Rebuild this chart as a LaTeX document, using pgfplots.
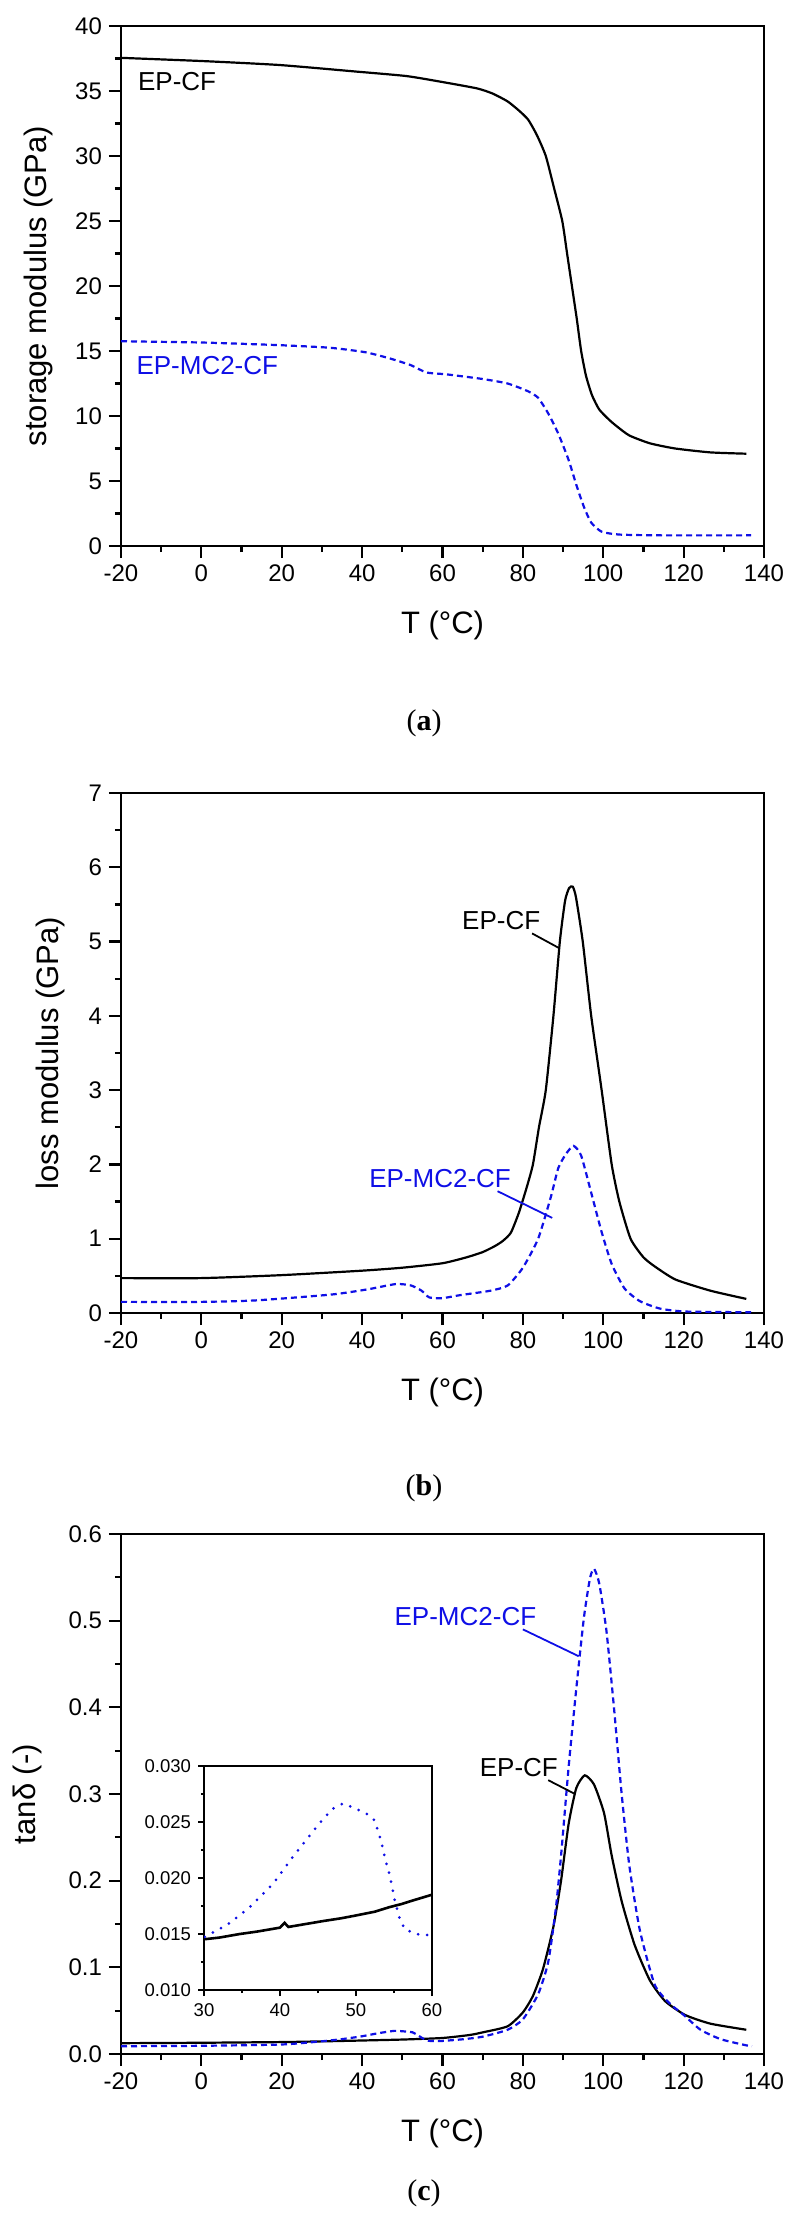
\documentclass[border=0pt]{standalone}
\usepackage{pgfplots}
\pgfplotsset{compat=1.18}
\usepackage{fontspec}
\setmainfont{Liberation Sans}
\newfontfamily\capfont{Liberation Serif}
\definecolor{mblue}{RGB}{15,15,230}

\pgfplotsset{
  dma/.style={
    scale only axis, width=321.5pt, height=260pt,
    xmin=-20, xmax=140, xtick={-20,0,...,140}, minor x tick num=1,
    minor y tick num=1,
    tick align=outside, xtick pos=bottom, ytick pos=left,
    major tick length=6pt, minor tick length=3pt,
    axis line style={line width=1.2pt},
    every tick/.style={line width=1.1pt, black},
    tick label style={font=\fontsize{12}{14}\selectfont},
    label style={font=\fontsize{15.5}{18}\selectfont},
    /pgf/number format/assume math mode=true,
    xlabel={T (°C)},
    xlabel style={at={(axis description cs:0.5,-0.152)}, anchor=center},
  },
  cf/.style={black, line width=1.1pt, smooth, tension=0.35},
  mc/.style={mblue, line width=1.1pt, dash pattern=on 3pt off 2pt, smooth, tension=0.35},
}

\begin{document}
\begin{tikzpicture}[x=0.5pt,y=-0.5pt]
\path[use as bounding box] (0,0) rectangle (796,2220);

% (a) storage modulus
\begin{axis}[dma, at={(60.5pt,-273pt)}, anchor=south west,
  ymin=0, ymax=40, ytick={0,5,...,40},
  ylabel={storage modulus (GPa)},
  ylabel style={at={(axis description cs:-0.129,0.5)}, anchor=center}]
\addplot[cf] coordinates {
(-20,37.55) (0.5,37.3) (19.4,37.0) (38.3,36.5) (51,36.15) (59.8,35.7)
(68.6,35.2) (72.5,34.8) (76.2,34.2) (79,33.5) (81.3,32.8) (83.5,31.6)
(85.7,30.0) (87.7,27.6) (89.8,25.0) (91.0,22.5) (92.2,20.0) (93.4,17.5)
(94.5,15.0) (95.7,13.1) (97.2,11.6) (99,10.5) (101.5,9.7) (103.4,9.2)
(106.5,8.5) (111.6,7.9) (117.9,7.5) (126.7,7.2) (135.6,7.1)};
\addplot[mc] coordinates {
(-20,15.75) (0.45,15.65) (19.4,15.45) (32,15.25) (40.9,14.9) (47.2,14.4)
(52.2,13.9) (56,13.35) (61.1,13.2) (69.9,12.85) (76.2,12.5) (81.3,11.9)
(83.8,11.4) (86.3,10.2) (88.8,8.65) (91.4,6.6) (93.3,4.7) (95.2,3.0)
(97.0,1.8) (99.6,1.1) (104,0.88) (114,0.82) (136.8,0.82)};
\node[anchor=west, font=\fontsize{13}{15}\selectfont] at (axis cs:-17.5,35.7) {EP-CF};
\node[anchor=west, mblue, font=\fontsize{13}{15}\selectfont] at (axis cs:-17.9,13.9) {EP-MC2-CF};
\end{axis}
\node[font=\capfont\fontsize{15}{18}\selectfont] at (424,723) {(\textbf{a})};

% (b) loss modulus
\begin{axis}[dma, at={(60.5pt,-656.5pt)}, anchor=south west,
  ymin=0, ymax=7, ytick={0,1,...,7},
  ylabel={loss modulus (GPa)},
  ylabel style={at={(axis description cs:-0.11,0.5)}, anchor=center}]
\addplot[cf] coordinates {
(-20,0.47) (0,0.47) (20,0.51) (40,0.57) (50,0.61) (60,0.67) (66,0.75)
(70,0.82) (73,0.9) (75,0.97) (77,1.08) (79,1.35) (81,1.7) (82.5,2.0)
(84,2.5) (85.7,3.0) (87.6,4.0) (89.2,5.0) (90.5,5.55) (91.5,5.72)
(92.4,5.74) (93.2,5.6) (94.9,5.0) (97,4.0) (99.6,3.0) (102.1,2.0)
(104,1.5) (106.8,1.0) (110,0.75) (113,0.62) (118,0.45) (126.7,0.30)
(135.6,0.19)};
\addplot[mc] coordinates {
(-20,0.15) (0,0.15) (13.6,0.17) (32.6,0.25) (41.5,0.32) (48.4,0.39)
(52.2,0.37) (54.8,0.30) (56.7,0.21) (60,0.2) (64.3,0.24) (71.9,0.3)
(76.2,0.37) (80,0.61) (83.8,1.0) (87,1.57) (88.8,1.95) (90.7,2.14)
(92.6,2.25) (94.5,2.12) (97,1.62) (99.6,1.09) (102.1,0.66) (105.3,0.33)
(109.1,0.16) (114.1,0.06) (120.4,0.02) (136.8,0.01)};
\node[font=\fontsize{13}{15}\selectfont] at (axis cs:74.6,5.28) {EP-CF};
\draw[black, line width=0.9pt] (axis cs:82.3,5.11) -- (axis cs:89.1,4.91);
\node[mblue, font=\fontsize{13}{15}\selectfont] at (axis cs:59.4,1.81) {EP-MC2-CF};
\draw[mblue, line width=0.9pt] (axis cs:73.7,1.64) -- (axis cs:87.3,1.28);
\end{axis}
\node[font=\capfont\fontsize{15}{18}\selectfont] at (424,1488) {(\textbf{b})};

% (c) tan delta
\begin{axis}[dma, at={(60.5pt,-1027pt)}, anchor=south west,
  ymin=0, ymax=0.6, ytick={0,0.1,...,0.6},
  yticklabel style={/pgf/number format/fixed, /pgf/number format/fixed zerofill, /pgf/number format/precision=1},
  ylabel={tanδ (-)},
  ylabel style={at={(axis description cs:-0.145,0.5)}, anchor=center}]
\addplot[cf] coordinates {
(-20,0.0125) (0,0.013) (20,0.0138) (30,0.0146) (40,0.0156) (50,0.0167)
(60,0.0185) (66.8,0.022) (70,0.025) (76.2,0.032) (80,0.048) (82.5,0.067)
(85,0.098) (87.6,0.147) (89.5,0.20) (91.4,0.266) (93.3,0.307) (95.4,0.3216)
(97.7,0.311) (100.2,0.278) (102.1,0.229) (104.6,0.176) (107.8,0.126)
(111.6,0.085) (115.4,0.061) (120.4,0.045) (126.7,0.035) (135.6,0.028)};
\addplot[mc] coordinates {
(-20,0.009) (0,0.0095) (20,0.011) (30,0.0147) (35,0.0172) (40,0.0205)
(44,0.024) (48,0.0267) (51,0.0259) (52.5,0.0251) (54,0.0213) (55.1,0.018)
(56.5,0.0153) (58.5,0.0149) (60,0.0151) (65,0.017) (70,0.020) (76.2,0.028)
(80,0.040) (83.8,0.069) (86.3,0.106) (88.2,0.168) (89.5,0.229) (91.4,0.332)
(93.3,0.422) (95.2,0.504) (96.7,0.549) (97.7,0.560) (99,0.543) (100.8,0.488)
(102.7,0.398) (104.6,0.299) (106.5,0.217) (109.1,0.143) (112.8,0.080)
(116.6,0.058) (119.8,0.046) (124.2,0.028) (129.3,0.017) (135.6,0.010)
(137,0.009)};
\node[mblue, font=\fontsize{13}{15}\selectfont] at (axis cs:65.7,0.505) {EP-MC2-CF};
\draw[mblue, line width=0.9pt] (axis cs:80,0.49) -- (axis cs:93.9,0.459);
\node[font=\fontsize{13}{15}\selectfont] at (axis cs:79.0,0.33) {EP-CF};
\draw[black, line width=0.9pt] (axis cs:86.3,0.316) -- (axis cs:93,0.30);
\end{axis}
\node[font=\capfont\fontsize{15}{18}\selectfont] at (424,2193) {(\textbf{c})};

% inset
\begin{axis}[scale only axis, width=114pt, height=112pt,
  at={(102pt,-995pt)}, anchor=south west,
  axis background/.style={fill=white},
  xmin=30, xmax=60, ymin=0.010, ymax=0.030,
  xtick={30,40,50,60}, ytick={0.010,0.015,...,0.030},
  scaled y ticks=false,
  minor x tick num=1, minor y tick num=1,
  tick align=outside, xtick pos=bottom, ytick pos=left,
  major tick length=3pt, minor tick length=1.6pt,
  axis line style={line width=0.7pt},
  every tick/.style={line width=0.6pt, black},
  tick label style={font=\fontsize{9.25}{11}\selectfont},
  /pgf/number format/assume math mode=true,
  yticklabel style={/pgf/number format/fixed, /pgf/number format/fixed zerofill, /pgf/number format/precision=3}]
\addplot[black, line width=1.3pt] coordinates {
(30,0.01453) (32,0.01468) (34.7,0.0150) (37,0.01522) (40.0,0.01557)
(40.6,0.0160) (41.1,0.01563) (43,0.01585) (45.7,0.01616) (48,0.01640)
(50.1,0.01667) (52.5,0.01700) (54.4,0.0174) (56,0.01768) (57.5,0.0180)
(60,0.01851)};
\addplot[mblue, line width=1.5pt, line cap=round, dash pattern=on 0pt off 4.6pt] coordinates {
(30.1,0.01474) (31.7,0.01534) (33.0,0.0158) (34.7,0.01667) (36.0,0.0174)
(37.8,0.0186) (39.1,0.0195) (40.4,0.0207) (41.7,0.0219) (43.1,0.0231)
(44.4,0.0242) (45.7,0.0253) (47.0,0.0262) (48.3,0.02666) (49.6,0.0263)
(50.9,0.0259) (51.8,0.0256) (52.5,0.0251) (53.3,0.0233) (54.0,0.0213)
(54.5,0.0201) (55.1,0.0180) (55.8,0.0162) (56.6,0.0153) (57.5,0.0152)
(58.4,0.0149) (59.3,0.0149) (59.9,0.0151)};
\end{axis}
\end{tikzpicture}
\end{document}
